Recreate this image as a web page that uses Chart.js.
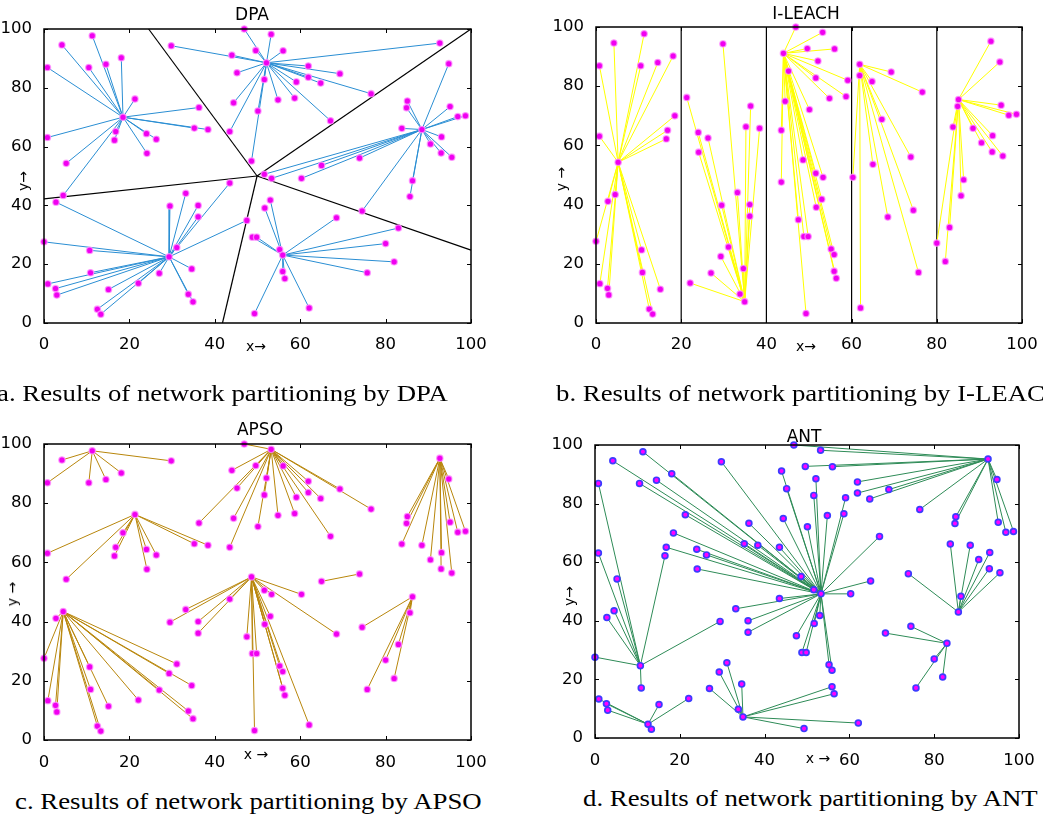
<!DOCTYPE html>
<html><head><meta charset="utf-8">
<script src="https://cdn.jsdelivr.net/npm/chart.js@4.4.1/dist/chart.umd.min.js"></script>
<style>
html,body{margin:0;padding:0;background:#fff;width:1043px;height:817px;overflow:hidden;position:relative}
canvas{position:absolute}
.t{position:absolute;font-family:"DejaVu Sans",sans-serif;font-size:17px;line-height:1;white-space:nowrap;color:#000;transform:translateX(-50%)}
.al{position:absolute;font-family:"DejaVu Sans",sans-serif;font-size:14px;line-height:1;white-space:nowrap;color:#000;transform:translate(-50%,-50%)}
.al.rot{transform:translate(-50%,-50%) rotate(-90deg)}
.cap{position:absolute;font-family:"Liberation Serif","Times New Roman",serif;font-size:23px;line-height:1;white-space:nowrap;color:#000;transform:scaleX(1.165);transform-origin:0 0}
</style></head><body>
<canvas id="cA"></canvas>
<canvas id="cB"></canvas>
<canvas id="cC"></canvas>
<canvas id="cD"></canvas>

<div class="t" style="left:252px;top:5.6px">DPA</div>
<div class="t" style="left:806px;top:4.6px">I-LEACH</div>
<div class="t" style="left:260px;top:420.6px">APSO</div>
<div class="t" style="left:804px;top:427.8px">ANT</div>

<div class="al" style="left:256px;top:345.5px">x→</div>
<div class="al rot" style="left:23px;top:181px">y→</div>
<div class="al" style="left:806px;top:345.5px">x→</div>
<div class="al rot" style="left:561px;top:179px">y →</div>
<div class="al" style="left:256px;top:754px">x →</div>
<div class="al rot" style="left:12px;top:594px">y →</div>
<div class="al" style="left:818px;top:758px">x →</div>
<div class="al rot" style="left:569px;top:596px">y→</div>

<div class="cap" style="left:-3px;top:381.7px">a. Results of network partitioning by DPA</div>
<div class="cap" style="left:556px;top:381.7px">b. Results of network partitioning by I-LEACH</div>
<div class="cap" style="left:15px;top:789.7px">c. Results of network partitioning by APSO</div>
<div class="cap" style="left:583px;top:786.7px">d. Results of network partitioning by ANT</div>

<script>
// ---- node coordinates (same 100 sensor nodes in every panel) ----
const nodeX = [11.3,4.2,0.8,10.5,14.5,18.1,29.8,21.3,0.8,5.2,
  16.8,16.5,18.5,24.0,24.1,26.3,35.2,38.4,53.2,46.9,
  49.6,56.0,44.0,52.1,45.2,61.9,51.6,61.9,59.1,64.8,
  69.3,76.6,36.3,44.4,54.8,58.7,50.1,67.1,43.5,92.7,
  94.8,85.1,84.9,83.8,88.5,90.5,93.1,95.1,96.9,98.7,
  93.0,95.5,65.0,73.9,48.6,33.2,29.5,36.1,36.1,43.5,
  51.6,53.3,60.3,53.0,51.7,47.5,48.8,49.8,55.2,55.9,
  55.9,56.4,49.3,62.1,68.5,86.3,85.7,74.5,80.0,83.0,
  82.0,75.7,4.5,2.8,0.0,0.9,2.7,3.0,10.7,10.9,
  15.1,12.5,13.3,22.1,27.0,29.3,31.1,34.6,33.8,34.9];
const nodeY = [97.7,94.6,86.9,86.9,88.0,90.2,94.3,76.2,63.1,54.3,
  65.1,62.2,70.0,64.4,57.7,62.5,66.3,65.8,98.2,100.0,
  92.7,92.6,91.1,88.5,85.1,87.4,82.8,83.6,82.0,81.6,
  84.8,78.0,73.3,74.9,75.9,76.5,72.1,68.8,65.1,95.2,
  88.2,75.5,73.2,66.2,65.8,60.9,63.3,73.6,70.2,70.5,
  57.8,56.4,53.6,56.1,55.1,44.1,39.8,40.0,36.1,47.6,
  50.6,49.2,49.2,41.8,39.1,34.9,29.2,29.2,25.0,23.1,
  17.5,15.1,3.2,5.1,35.8,48.4,43.0,38.1,27.0,32.3,
  20.8,17.1,43.4,41.1,27.6,13.3,11.7,9.5,24.7,17.1,
  11.4,4.7,3.0,13.5,16.9,22.5,25.7,18.4,9.8,7.2];
const tickValues = [0,20,40,60,80,100];

// ---- clusters: first index = cluster head, rest = member nodes ----
const dpaClusters = [
  [12, 0,1,2,3,4,5,7,8,9,10,11,13,14,15,16,17,32,82],
  [23, 6,18,19,20,21,22,24,25,26,27,28,29,30,31,33,34,35,36,37,38,39,54],
  [44, 40,41,42,43,45,46,47,48,49,50,51,52,53,60,61,62,75,76,77],
  [69, 63,64,66,67,68,70,71,72,73,74,78,79,80,81],
  [95, 55,56,57,58,59,65,83,84,85,86,87,88,89,90,91,92,93,94,96,97,98,99]];
const ileachClusters = [
  [9, 0,1,2,3,4,5,8,10,11,12,82,83,84,85,86,87,88,89,90,91,92],
  [99, 6,7,13,14,15,16,17,32,55,56,57,58,93,94,95,96,97,98],
  [22, 18,19,20,21,23,24,26,28,33,34,35,36,38,54,59,60,61,63,64,65,66,67,68,69,70,71,72],
  [25, 27,29,30,31,37,52,53,62,73,74,77,81],
  [41, 39,40,42,43,44,45,46,47,48,49,50,51,75,76,78,79,80]];
const apsoClusters = [
  [0, 1,2,3,4,5,6],
  [7, 8,9,10,11,12,13,14,15,16,17],
  [18, 19,20,21,22,23,24,25,26,27,28,29,30,31,32,33,34,35,36,37,38],
  [39, 40,41,42,43,44,45,46,47,48,49,50,51],
  [53, 52],
  [54, 55,56,57,58,59,60,61,62,63,64,65,66,67,68,69,70,71,72,73,74],
  [75, 76,77,78,79,80,81],
  [82, 83,84,85,86,87,88,89,90,91,92,93,94,95,96,97,98,99]];
const antClusters = [
  [88, 2,8,9,11,56,82,83,84,89],
  [91, 85,86,87,90,92,93],
  [99, 70,71,72,73,94,95,96,97,98],
  [61, 0,1,3,4,5,6,7,10,12,13,14,15,16,17,22,23,24,26,28,32,33,34,35,36,37,38,52,54,55,57,58,59,60,62,63,64,65,66,67,68,69],
  [39, 18,19,20,21,25,27,29,30,31,40,41,42,47,48,49],
  [76, 43,44,45,46,50,51,53,75],
  [79, 74,77,78,80,81]];

// ---- DPA partition borders (from a common junction to the outer ends) ----
const dpaJunctionX = 49.9, dpaJunctionY = 50.0;
const dpaBorderX = [24.5, 100, 100, 41.8, 0];
const dpaBorderY = [100, 100, 24.8, 0, 42.2];
// ---- I-LEACH strip dividers ----
const ileachDividers = [20, 40, 60, 80];

function pt(i){ return {x: nodeX[i], y: nodeY[i]}; }

function spokeSets(clusters, color){
  const ds = [];
  clusters.forEach(c => {
    const h = c[0];
    c.slice(1).forEach(m => ds.push({
      data:[pt(m), pt(h)], showLine:true, borderColor:color, borderWidth:1,
      pointRadius:0, order:1, clip:false
    }));
  });
  return ds;
}
function nodeSet(fill, border, r, bw){
  return {data: nodeX.map((x,i)=>pt(i)), showLine:false, pointRadius:r,
    pointBackgroundColor:fill, pointBorderColor:border, pointBorderWidth:bw,
    order:0, clip:false};
}
function blackLine(a, b){
  return {data:[a,b], showLine:true, borderColor:'#000', borderWidth:1.2,
    pointRadius:0, order:2, clip:false};
}

const boxPlugin = {
  id:'matlabBox',
  afterDatasetsDraw(chart){
    const {ctx, chartArea:a, scales:{x, y}} = chart;
    ctx.save();
    ctx.strokeStyle = '#000';
    ctx.lineWidth = 1;
    ctx.beginPath();
    tickValues.forEach(v => {
      const px = Math.round(x.getPixelForValue(v)) + 0.5;
      const py = Math.round(y.getPixelForValue(v)) + 0.5;
      ctx.moveTo(px, a.bottom); ctx.lineTo(px, a.bottom - 4);
      ctx.moveTo(px, a.top); ctx.lineTo(px, a.top + 4);
      ctx.moveTo(a.left, py); ctx.lineTo(a.left + 4, py);
      ctx.moveTo(a.right, py); ctx.lineTo(a.right - 4, py);
    });
    ctx.stroke();
    ctx.lineWidth = 1.5;
    ctx.strokeRect(a.left, a.top, a.right - a.left, a.bottom - a.top);
    ctx.restore();
  }
};

function makeChart(id, box, area, datasets){
  const cv = document.getElementById(id);
  cv.width = box.w; cv.height = box.h;
  Object.assign(cv.style, {left:box.left+'px', top:box.top+'px', width:box.w+'px', height:box.h+'px'});
  const yW = area.l - box.left;
  const xH = box.top + box.h - area.b;
  const tickFont = {family:'"DejaVu Sans", sans-serif', size:16.5};
  return new Chart(cv, {
    type:'scatter',
    data:{datasets},
    options:{
      responsive:false, animation:false, devicePixelRatio:1, events:[],
      layout:{padding:{left:0, top:area.t - box.top, right:box.left + box.w - area.r, bottom:0}},
      plugins:{legend:{display:false}, title:{display:false}, tooltip:{enabled:false}},
      scales:{
        x:{type:'linear', min:0, max:100,
          afterBuildTicks:s => { s.ticks = tickValues.map(v => ({value:v})); },
          ticks:{font:tickFont, color:'#000', padding:area.xpad, maxRotation:0, autoSkip:false},
          grid:{display:false}, border:{display:false},
          afterFit:s => { s.height = xH; s.paddingLeft = 0; s.paddingRight = 0; }},
        y:{type:'linear', min:0, max:100,
          afterBuildTicks:s => { s.ticks = tickValues.map(v => ({value:v})); },
          ticks:{font:tickFont, color:'#000', padding:4, autoSkip:false},
          grid:{display:false}, border:{display:false},
          afterFit:s => { s.width = yW; s.paddingTop = 0; s.paddingBottom = 0; }}
      }
    },
    plugins:[boxPlugin]
  });
}

const haloFill = '#f000f0', haloBorder = 'rgba(255,150,255,0.75)';

// a. DPA
const dsA = [nodeSet(haloFill, haloBorder, 3.2, 1.3)]
  .concat(spokeSets(dpaClusters, '#2a8ed3'))
  .concat(dpaBorderX.map((bx,i) => blackLine({x:dpaJunctionX, y:dpaJunctionY}, {x:bx, y:dpaBorderY[i]})));
makeChart('cA', {left:0, top:0, w:520, h:360}, {l:44, t:29, r:471, b:323, xpad:4}, dsA);

// b. I-LEACH
const dsB = [nodeSet(haloFill, haloBorder, 3.2, 1.3)]
  .concat(spokeSets(ileachClusters, '#ffff00'))
  .concat(ileachDividers.map(v => blackLine({x:v, y:0}, {x:v, y:100})));
makeChart('cB', {left:540, top:0, w:503, h:360}, {l:596, t:27, r:1022, b:323, xpad:4}, dsB);

// c. APSO
const dsC = [nodeSet(haloFill, haloBorder, 3.2, 1.3)].concat(spokeSets(apsoClusters, '#b8860b'));
makeChart('cC', {left:0, top:410, w:520, h:370}, {l:44, t:444, r:471, b:740, xpad:4.5}, dsC);

// d. ANT
const dsD = [nodeSet('#ff00ff', '#3c3cff', 2.9, 1.7)].concat(spokeSets(antClusters, '#2e8b57'));
makeChart('cD', {left:540, top:410, w:503, h:370}, {l:595, t:445, r:1019, b:738, xpad:5}, dsD);
</script>
</body></html>
